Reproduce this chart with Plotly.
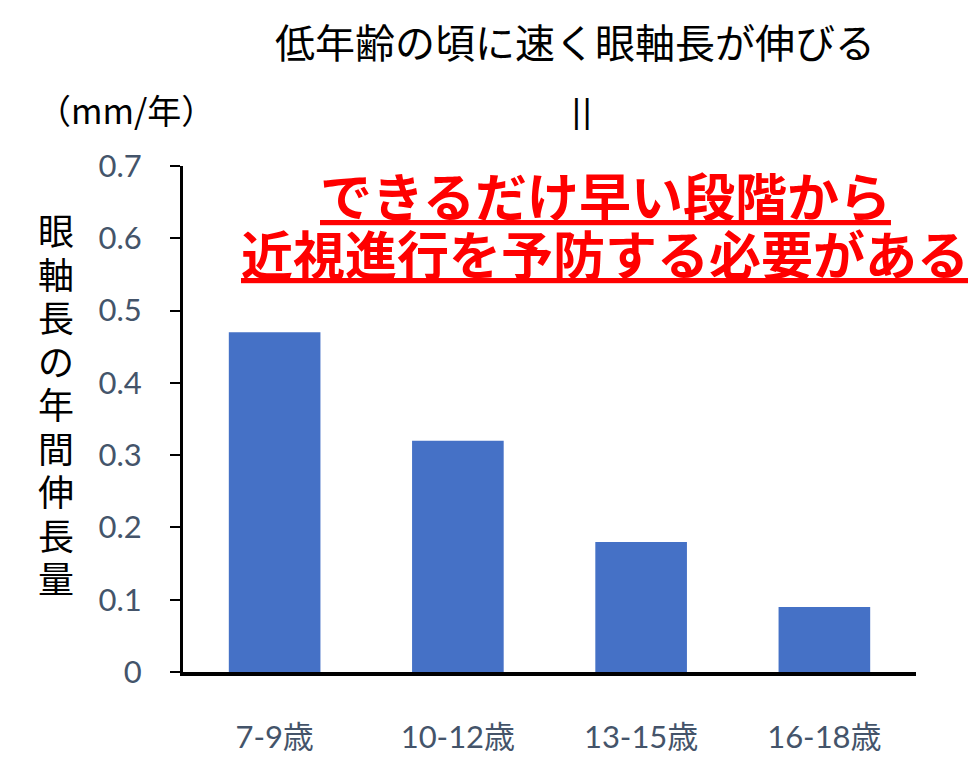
import plotly.graph_objects as go

categories = ["7-9歳", "10-12歳", "13-15歳", "16-18歳"]
values = [0.47, 0.32, 0.18, 0.09]
y_ticks = [0, 0.1, 0.2, 0.3, 0.4, 0.5, 0.6, 0.7]
y_tick_labels = ["0", "0.1", "0.2", "0.3", "0.4", "0.5", "0.6", "0.7"]

title_text = "低年齢の頃に速く眼軸長が伸びる"
unit_text = "（mm/年）"
y_title = "眼軸長の年間伸長量"
message_lines = ["できるだけ早い段階から", "近視進行を予防する必要がある"]

FONT = "Lato, 'Noto Sans CJK JP', sans-serif"
CJK = "'Noto Sans CJK JP', sans-serif"
TICK_COLOR = "#44546A"

W, H = 976, 768
L, R, T, B = 175, 68, 158, 104
PW, PH = W - L - R, H - T - B

fig = go.Figure(
    go.Bar(
        x=categories,
        y=values,
        width=0.5,
        marker=dict(color="#4571C6", line=dict(width=0)),
    )
)

fig.update_layout(
    width=W,
    height=H,
    margin=dict(l=L, r=R, t=T, b=B),
    paper_bgcolor="white",
    plot_bgcolor="white",
    showlegend=False,
    font=dict(family=FONT, color=TICK_COLOR),
)

fig.update_yaxes(
    range=[0, 0.7],
    tickvals=y_ticks,
    ticktext=y_tick_labels,
    showgrid=False,
    zeroline=False,
    showline=True,
    linecolor="black",
    linewidth=3,
    ticks="outside",
    ticklen=10,
    tickwidth=2,
    tickcolor="black",
    tickfont=dict(size=31, color=TICK_COLOR, family=FONT),
    ticklabelstandoff=22,
)
fig.update_xaxes(
    showgrid=False,
    showline=True,
    linecolor="black",
    linewidth=4,
    ticks="",
    tickfont=dict(size=31, color=TICK_COLOR, family=FONT),
    ticklabelstandoff=35,
)


def add_text(text, px, py, font):
    fig.add_annotation(
        text=text, x=(px - L) / PW, y=(H - B - py) / PH,
        xref="paper", yref="paper", xanchor="center", yanchor="middle",
        showarrow=False, font=font, align="center",
    )


add_text(title_text, 567, 33, dict(size=40, color="black", family=CJK))
add_text("||", 574, 103, dict(size=32, color="black", family="DejaVu Sans"))
add_text(unit_text, 118, 102, dict(size=34, color="black", family=CJK))
for i, ch in enumerate(y_title):
    add_text(ch, 48, 221 + i * 43.5, dict(size=36, color="black", family=CJK))
add_text("<u>" + message_lines[0] + "</u>", 597, 186,
         dict(size=52, color="#FF0000", family=CJK, weight="bold"))
add_text("<u>" + message_lines[1] + "</u>", 597, 244,
         dict(size=52, color="#FF0000", family=CJK, weight="bold"))

fig.write_html("out.html")
